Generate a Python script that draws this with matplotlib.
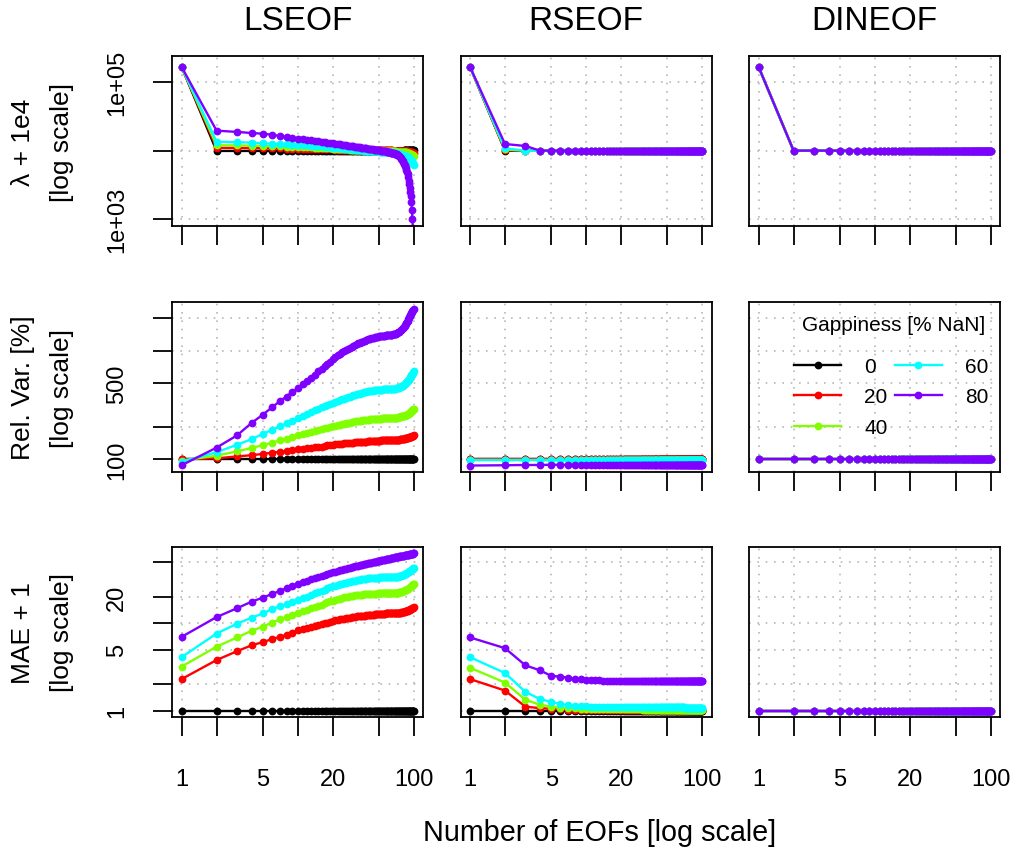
import numpy as np
import matplotlib
matplotlib.use("Agg")
from matplotlib import pyplot as plt
from matplotlib.lines import Line2D
from matplotlib.ticker import NullLocator

plt.rcParams['font.family'] = ['Liberation Sans', 'DejaVu Sans']

# number of EOFs
k = np.arange(1, 101)
gaps = ['0', '20', '40', '60', '80']
cols = ['#000000', '#FF0000', '#80FF00', '#00FFFF', '#8000FF']
methods = ['LSEOF', 'RSEOF', 'DINEOF']

# ---- lambda + 1e4 ----
LS_LAM_0 = [168000] + [9900] * 50 + [10000] * 30 + [10100] * 19
LS_LAM_20 = [
    168000, 11000, 10950, 10900, 10850, 10800, 10750, 10700, 10650, 10600,
    10580, 10560, 10540, 10520, 10500, 10480, 10460, 10440, 10420, 10400,
    10390, 10380, 10370, 10360, 10350, 10340, 10330, 10320, 10310, 10300,
    10295, 10290, 10285, 10280, 10275, 10270, 10265, 10260, 10255, 10250,
    10245, 10240, 10235, 10230, 10225, 10220, 10215, 10210, 10205, 10200,
    10190, 10180, 10170, 10160, 10150, 10140, 10130, 10120, 10110, 10100,
    10090, 10080, 10070, 10060, 10050, 10040, 10030, 10020, 10010, 10000,
    9990, 9980, 9970, 9960, 9950, 9940, 9930, 9920, 9910, 9900,
    9880, 9860, 9840, 9820, 9800, 9780, 9760, 9740, 9720, 9700,
    9660, 9620, 9580, 9540, 9500, 9460, 9420, 9380, 9340, 9300]
LS_LAM_40 = [
    168000, 12000, 11900, 11800, 11700, 11600, 11550, 11450, 11400, 11300,
    11240, 11180, 11120, 11060, 11000, 10940, 10880, 10820, 10760, 10700,
    10660, 10620, 10580, 10540, 10500, 10460, 10420, 10390, 10360, 10330,
    10300, 10280, 10260, 10240, 10220, 10200, 10180, 10160, 10140, 10120,
    10100, 10080, 10060, 10040, 10020, 10000, 9980, 9960, 9940, 9920,
    9900, 9890, 9880, 9870, 9860, 9850, 9840, 9830, 9820, 9810,
    9800, 9790, 9780, 9770, 9760, 9750, 9740, 9730, 9720, 9700,
    9690, 9680, 9670, 9660, 9650, 9640, 9630, 9620, 9610, 9600,
    9570, 9540, 9510, 9480, 9440, 9400, 9360, 9310, 9260, 9200,
    9130, 9060, 8990, 8920, 8850, 8770, 8690, 8610, 8520, 8400]
LS_LAM_60 = [
    168000, 13500, 13300, 13100, 12800, 12650, 12500, 12350, 12200, 12100,
    12000, 11900, 11800, 11700, 11600, 11500, 11400, 11300, 11200, 11100,
    11020, 10940, 10860, 10790, 10720, 10650, 10590, 10530, 10470, 10410,
    10360, 10310, 10260, 10210, 10160, 10110, 10070, 10030, 9990, 9950,
    9920, 9890, 9860, 9830, 9800, 9780, 9760, 9740, 9720, 9700,
    9680, 9660, 9640, 9620, 9600, 9580, 9560, 9540, 9520, 9500,
    9480, 9460, 9430, 9400, 9370, 9340, 9310, 9280, 9240, 9200,
    9150, 9100, 9050, 9000, 8950, 8890, 8830, 8770, 8710, 8650,
    8580, 8510, 8440, 8370, 8300, 8230, 8150, 8070, 7990, 7900,
    7780, 7650, 7510, 7360, 7200, 7030, 6850, 6660, 6400, 6100]
LS_LAM_80 = [
    168000, 19600, 18800, 18100, 17700, 17100, 16400, 15900, 15300, 15000,
    14700, 14400, 14100, 13900, 13700, 13500, 13300, 13100, 12950, 12800,
    12650, 12500, 12350, 12200, 12050, 11900, 11800, 11700, 11600, 11500,
    11400, 11320, 11240, 11160, 11080, 11000, 10920, 10840, 10760, 10690,
    10620, 10550, 10480, 10420, 10360, 10300, 10250, 10200, 10150, 10100,
    10050, 10000, 9950, 9900, 9850, 9800, 9750, 9700, 9620, 9540,
    9480, 9420, 9360, 9300, 9240, 9180, 9120, 9060, 8990, 8920,
    8800, 8680, 8550, 8420, 8300, 8050, 7800, 7550, 7300, 7060,
    6760, 6460, 6200, 5970, 5600, 5250, 4900, 4510, 4050, 3600,
    3240, 2880, 2520, 2170, 1760, 1360, 990, 600, 350, 150]

RS_LAM_0 = [168000] + [10000] * 99
RS_LAM_20 = [168000, 10100] + [10000] * 98
RS_LAM_40 = [168000, 10400] + [10000] * 98
RS_LAM_60 = [168000, 10800] + [10000] * 98
RS_LAM_80 = [168000, 12500, 11700] + [10000] * 97

DI_LAM = [168000] + [10000] * 99

# ---- relative variance [%] ----
LS_VAR_0 = [100] * 100
LS_VAR_20 = [
    100, 102, 106, 109, 112, 115, 117, 119, 121, 123,
    124, 126, 127, 129, 130, 131, 133, 134, 135, 136,
    137, 138, 138, 139, 140, 140, 141, 141, 142, 142,
    143, 143, 143, 144, 144, 144, 145, 145, 145, 146,
    146, 146, 147, 147, 147, 147, 148, 148, 148, 148,
    148, 149, 149, 149, 149, 149, 149, 150, 150, 150,
    150, 150, 150, 150, 151, 151, 151, 151, 151, 151,
    151, 152, 152, 152, 152, 153, 153, 153, 154, 154,
    154, 155, 155, 156, 156, 157, 157, 158, 158, 159,
    159, 160, 161, 161, 162, 163, 163, 164, 165, 166]
LS_VAR_40 = [
    97, 108, 118, 127, 135, 142, 149, 155, 161, 167,
    171, 175, 179, 183, 186, 189, 193, 196, 199, 202,
    204, 206, 208, 210, 212, 214, 216, 218, 220, 222,
    223, 224, 225, 226, 227, 228, 229, 230, 231, 232,
    232, 233, 233, 234, 234, 235, 235, 236, 236, 237,
    237, 237, 238, 238, 238, 238, 238, 239, 239, 239,
    239, 239, 239, 240, 240, 240, 240, 240, 240, 240,
    241, 242, 243, 244, 245, 246, 247, 248, 248, 249,
    250, 251, 252, 254, 255, 256, 258, 259, 261, 263,
    266, 268, 271, 274, 277, 280, 283, 286, 290, 293]
LS_VAR_60 = [
    95, 116, 136, 153, 171, 187, 201, 214, 227, 242,
    253, 262, 273, 282, 292, 301, 309, 318, 326, 333,
    340, 346, 352, 357, 363, 368, 374, 379, 384, 389,
    393, 396, 400, 404, 407, 410, 413, 416, 419, 422,
    424, 426, 428, 430, 432, 433, 434, 435, 436, 437,
    438, 439, 439, 440, 441, 442, 442, 443, 444, 444,
    445, 446, 446, 447, 447, 448, 448, 449, 449, 450,
    452, 454, 456, 458, 461, 464, 467, 470, 473, 476,
    481, 487, 493, 499, 505, 511, 518, 525, 533, 541,
    551, 561, 571, 582, 593, 605, 617, 629, 642, 656]
LS_VAR_80 = [
    88, 128, 166, 216, 258, 301, 343, 379, 419, 453,
    490, 525, 562, 603, 646, 684, 724, 759, 794, 841,
    881, 912, 944, 977, 1000, 1023, 1047, 1072, 1096, 1109,
    1135, 1148, 1175, 1189, 1202, 1216, 1230, 1245, 1259, 1274,
    1288, 1297, 1306, 1315, 1324, 1334, 1340, 1346, 1352, 1358,
    1365, 1371, 1374, 1377, 1380, 1384, 1387, 1390, 1393, 1396,
    1400, 1403, 1406, 1409, 1413, 1419, 1426, 1432, 1439, 1445,
    1455, 1466, 1479, 1493, 1507, 1524, 1542, 1563, 1585, 1611,
    1637, 1667, 1698, 1734, 1770, 1811, 1854, 1901, 1950, 2004,
    2045, 2090, 2135, 2180, 2225, 2270, 2315, 2360, 2405, 2450]

RS_VAR_0 = [100] * 100
RS_VAR_20 = [100] * 100
RS_VAR_40 = [99] * 100
RS_VAR_60 = [98] * 100
RS_VAR_80 = [87.5, 88, 88.5, 88.5] + [89] * 96

DI_VAR = [100] * 100

# ---- MAE + 1 ----
LS_MAE_0 = [1] * 100
LS_MAE_20 = [
    2.3, 3.8, 4.8, 5.6, 6.1, 6.6, 7.0, 7.4, 7.85, 8.3,
    8.6, 8.9, 9.2, 9.4, 9.6, 9.8, 10.0, 10.2, 10.4, 10.6,
    10.8, 10.9, 11.1, 11.2, 11.3, 11.4, 11.5, 11.6, 11.7, 11.8,
    11.9, 12.0, 12.0, 12.1, 12.2, 12.2, 12.3, 12.3, 12.4, 12.4,
    12.5, 12.5, 12.6, 12.6, 12.6, 12.7, 12.7, 12.7, 12.8, 12.8,
    12.8, 12.9, 12.9, 12.9, 12.9, 12.9, 13.0, 13.0, 13.0, 13.0,
    13.0, 13.0, 13.0, 13.1, 13.1, 13.1, 13.1, 13.1, 13.1, 13.1,
    13.1, 13.2, 13.2, 13.2, 13.3, 13.3, 13.3, 13.4, 13.4, 13.5,
    13.5, 13.6, 13.6, 13.7, 13.8, 13.8, 13.9, 14.0, 14.1, 14.2,
    14.3, 14.4, 14.5, 14.6, 14.7, 14.8, 14.9, 15.0, 15.1, 15.2]
LS_MAE_40 = [
    3.2, 5.4, 6.9, 8.2, 9.2, 10.2, 11.1, 11.8, 12.4, 13.1,
    13.7, 14.3, 14.9, 15.4, 15.9, 16.4, 16.9, 17.4, 17.8, 18.2,
    18.6, 18.9, 19.2, 19.5, 19.8, 20.0, 20.2, 20.4, 20.6, 20.8,
    20.9, 21.0, 21.1, 21.2, 21.3, 21.4, 21.5, 21.5, 21.6, 21.6,
    21.7, 21.7, 21.8, 21.8, 21.8, 21.9, 21.9, 21.9, 22.0, 22.0,
    22.0, 22.0, 22.0, 22.0, 22.0, 22.0, 22.0, 22.1, 22.1, 22.1,
    22.1, 22.1, 22.1, 22.1, 22.1, 22.1, 22.2, 22.2, 22.2, 22.2,
    22.3, 22.4, 22.5, 22.6, 22.7, 22.8, 22.9, 23.0, 23.1, 23.2,
    23.4, 23.6, 23.8, 24.0, 24.2, 24.4, 24.6, 24.8, 25.0, 25.3,
    25.6, 25.9, 26.2, 26.5, 26.8, 27.1, 27.4, 27.7, 28.0, 28.3]
LS_MAE_60 = [
    4.1, 7.65, 9.9, 11.6, 13.0, 14.5, 15.7, 16.6, 17.6, 18.5,
    19.4, 20.3, 21.2, 22.0, 22.8, 23.6, 24.4, 25.1, 25.8, 26.5,
    27.0, 27.5, 28.0, 28.4, 28.8, 29.2, 29.6, 30.0, 30.3, 30.6,
    30.9, 31.2, 31.4, 31.6, 31.8, 32.0, 32.2, 32.4, 32.5, 32.7,
    32.8, 32.9, 33.0, 33.1, 33.2, 33.3, 33.4, 33.4, 33.5, 33.5,
    33.6, 33.6, 33.6, 33.7, 33.7, 33.7, 33.7, 33.7, 33.7, 33.7,
    33.7, 33.7, 33.7, 33.7, 33.8, 33.8, 33.8, 33.9, 33.9, 34.0,
    34.1, 34.2, 34.3, 34.5, 34.6, 34.8, 35.0, 35.2, 35.4, 35.6,
    35.9, 36.2, 36.5, 36.8, 37.1, 37.5, 37.9, 38.3, 38.7, 39.1,
    39.5, 39.9, 40.3, 40.7, 41.1, 41.5, 41.9, 42.3, 42.7, 43.0]
LS_MAE_80 = [
    7.0, 11.8, 14.9, 17.7, 19.7, 21.7, 23.5, 25.4, 26.8, 28.3,
    29.5, 30.7, 31.8, 32.9, 33.9, 34.9, 35.8, 36.7, 37.6, 38.5,
    39.2, 39.9, 40.5, 41.1, 41.7, 42.3, 42.9, 43.4, 44.0, 44.5,
    45.0, 45.5, 45.9, 46.3, 46.7, 47.1, 47.5, 47.9, 48.3, 48.7,
    49.0, 49.4, 49.7, 50.0, 50.4, 50.7, 51.0, 51.4, 51.7, 52.0,
    52.3, 52.6, 52.9, 53.2, 53.5, 53.8, 54.0, 54.3, 54.5, 54.8,
    55.0, 55.3, 55.5, 55.8, 56.0, 56.3, 56.5, 56.8, 57.0, 57.3,
    57.5, 57.7, 58.0, 58.2, 58.4, 58.6, 58.8, 59.0, 59.2, 59.4,
    59.6, 59.8, 60.0, 60.2, 60.4, 60.6, 60.8, 61.0, 61.2, 61.4,
    61.6, 61.8, 62.0, 62.2, 62.4, 62.6, 62.8, 63.0, 63.2, 63.5]

RS_MAE_0 = [1] * 100
RS_MAE_20 = [2.3, 1.7, 1.11, 1.07, 1.05, 1.04, 1.03, 1.025, 1.02, 1.02] + [1.01] * 40 + [1.005] * 50
RS_MAE_40 = [3.1, 2.1, 1.33, 1.17, 1.11, 1.08, 1.07, 1.06, 1.055, 1.05] + [1.04] * 20 + [1.03] * 30 + [1.02] * 40
RS_MAE_60 = [4.1, 2.7, 1.64, 1.36, 1.26, 1.19, 1.16, 1.14, 1.13, 1.12] + [1.11] * 10 + [1.10] * 20 + [1.09] * 30 + [1.08] * 30
RS_MAE_80 = [6.9, 5.2, 3.3, 2.9, 2.5, 2.46, 2.38, 2.32, 2.28, 2.25, 2.24, 2.23, 2.22, 2.21] + [2.2] * 86

DI_MAE = [1] * 100

# axis settings per row
x_ticks = [1, 2, 5, 10, 20, 50, 100]
x_labels = ['1', '', '5', '', '20', '', '100']

lam_ticks = [1e3, 1e4, 1e5]
lam_labels = ['1e+03', '', '1e+05']
var_ticks = [100, 200, 500, 1000, 2000]
var_labels = ['100', '', '500', '', '']
mae_ticks = [1, 2, 5, 10, 20, 50]
mae_labels = ['1', '', '5', '', '20', '']

rows = [
    ([[LS_LAM_0, LS_LAM_20, LS_LAM_40, LS_LAM_60, LS_LAM_80],
      [RS_LAM_0, RS_LAM_20, RS_LAM_40, RS_LAM_60, RS_LAM_80],
      [DI_LAM] * 5],
     (10 ** 2.902, 10 ** 5.38), lam_ticks, lam_labels, ['\u03bb + 1e4', '[log scale]']),
    ([[LS_VAR_0, LS_VAR_20, LS_VAR_40, LS_VAR_60, LS_VAR_80],
      [RS_VAR_0, RS_VAR_20, RS_VAR_40, RS_VAR_60, RS_VAR_80],
      [DI_VAR] * 5],
     (10 ** 1.885, 10 ** 3.448), var_ticks, var_labels, ['Rel. Var. [%]', '[log scale]']),
    ([[LS_MAE_0, LS_MAE_20, LS_MAE_40, LS_MAE_60, LS_MAE_80],
      [RS_MAE_0, RS_MAE_20, RS_MAE_40, RS_MAE_60, RS_MAE_80],
      [DI_MAE] * 5],
     (10 ** -0.069, 10 ** 1.871), mae_ticks, mae_labels, ['MAE + 1', '[log scale]']),
]

W, H = 1017, 854
fig = plt.figure(figsize=(W / 100, H / 100), dpi=100)

col_left = [172.3, 460.7, 749.3]
row_top = [57.3, 303.3, 548.3]
pw, ph = 251, 169.4

LW, MS = 1.7, 5.6

axes = {}
for r, (series, ylim, yt, ytl, ylab) in enumerate(rows):
    for c in range(3):
        ax = fig.add_axes([col_left[c] / W, 1 - (row_top[r] + ph) / H, pw / W, ph / H])
        axes[(r, c)] = ax
        for i in range(5):
            ax.plot(k, series[c][i], color=cols[i], lw=LW, marker='o',
                    ms=MS, mew=0)
        ax.set_xscale('log')
        ax.set_yscale('log')
        ax.set_xlim(10 ** -0.08, 10 ** 2.08)
        ax.set_ylim(*ylim)
        ax.set_xticks(x_ticks)
        ax.set_xticklabels(x_labels if r == 2 else [''] * len(x_ticks))
        ax.set_yticks(yt)
        ax.set_yticklabels(ytl if c == 0 else [''] * len(yt))
        ax.xaxis.set_minor_locator(NullLocator())
        ax.yaxis.set_minor_locator(NullLocator())
        ax.grid(True, color='#B8B8B8', linestyle=(0, (1, 4)), lw=1.2)
        ax.set_axisbelow(True)
        for s in ax.spines.values():
            s.set_linewidth(1.3)
        ax.tick_params(axis='x', direction='out', length=13.7, width=1.3,
                       labelsize=17, pad=23)
        if c == 0:
            ax.tick_params(axis='y', direction='out', length=13.7, width=1.3,
                           labelsize=17, pad=18)
            for lab in ax.get_yticklabels():
                lab.set_rotation(90)
                lab.set_va('center')
        else:
            ax.tick_params(axis='y', length=0)

    # row label (two lines)
    yc = 1 - (row_top[r] + ph / 2) / H
    fig.text(23 / W, yc, ylab[0], rotation=90, ha='center', va='center', fontsize=19)
    fig.text(62 / W, yc, ylab[1], rotation=90, ha='center', va='center', fontsize=19)

for c, m in enumerate(methods):
    fig.text((col_left[c] + pw / 2) / W, 1 - 22 / H, m, ha='center', va='center', fontsize=24)

fig.text(600 / W, 1 - 833 / H, 'Number of EOFs [log scale]', ha='center', va='center', fontsize=20.7)

# legend in the DINEOF / Rel. Var. panel
fig.text(894 / W, 1 - 326 / H, 'Gappiness [% NaN]', ha='center', va='center', fontsize=15)
handles = [Line2D([], [], color=cols[i], lw=LW, marker='o', ms=MS, mew=0) for i in range(5)]
axes[(1, 2)].legend(handles, gaps, ncol=2, frameon=False,
                    loc='upper right', bbox_to_anchor=(988 / W, 1 - 358 / H),
                    bbox_transform=fig.transFigure, fontsize=15,
                    handlelength=2.25, handletextpad=1.1, columnspacing=0.35,
                    labelspacing=0.55, borderpad=0, borderaxespad=0)

fig.savefig('out.png', dpi=100)
